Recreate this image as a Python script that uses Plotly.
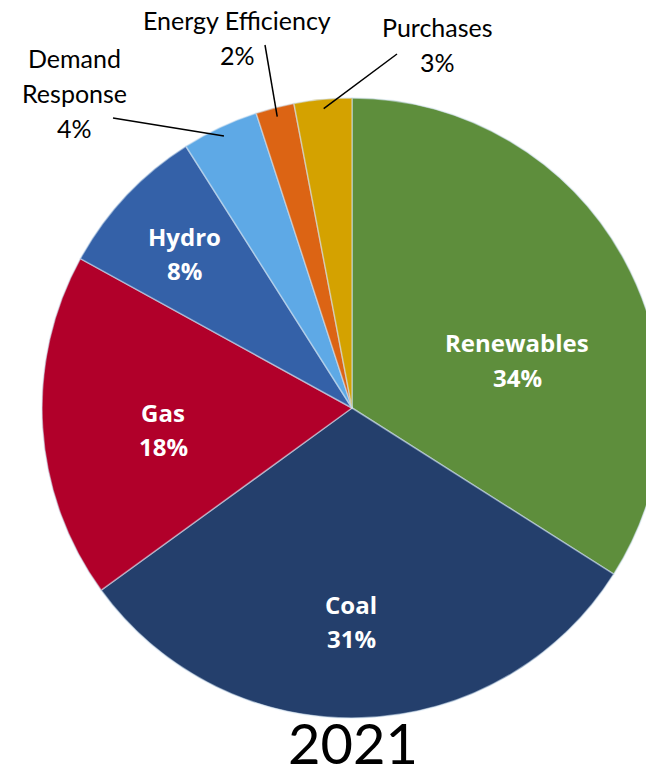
import math
import plotly.graph_objects as go

# ---- data ----
categories = ["Renewables", "Coal", "Gas", "Hydro", "Demand Response", "Energy Efficiency", "Purchases"]
values = [34, 31, 18, 8, 4, 2, 3]
colors = ["#5E8E3C", "#243F6C", "#B1002A", "#3461A8", "#5EA9E6", "#DC6414", "#D4A200"]
title_text = "2021"

# ---- layout geometry (pixels) ----
W, H = 680, 777
CX, CY, R = 352, 408, 310


def px(x):
    return x / W


def py(y):
    return 1 - y / H


fig = go.Figure()
fig.add_trace(go.Pie(
    labels=categories,
    values=values,
    sort=False,
    direction="clockwise",
    rotation=0,
    textinfo="none",
    hoverinfo="label+percent",
    marker=dict(colors=colors, line=dict(color="rgba(210,225,240,0.55)", width=1.5)),
    domain=dict(x=[px(CX - R), px(CX + R)], y=[py(CY + R), py(CY - R)]),
    showlegend=False,
))

total = sum(values)
pcts = [round(100 * v / total) for v in values]

# label line positions (x centre, y of each text line)
inside_pos = {"Renewables": (517, [343, 377]), "Coal": (351, [604, 638]),
              "Gas": (163, [412, 446]), "Hydro": (185, [236, 270])}
outside_pos = {"Demand Response": (74, [58, 93, 128]), "Energy Efficiency": (237, [20, 55]),
               "Purchases": (437, [27, 62])}
outside_lines = {"Demand Response": ["Demand", "Response"], "Energy Efficiency": ["Energy Efficiency"],
                 "Purchases": ["Purchases"]}
leader_end = {"Demand Response": (113, 118), "Energy Efficiency": (265, 45), "Purchases": (397, 54)}

annotations = []


def add_text(x, y, text, font):
    annotations.append(dict(x=px(x), y=py(y), xref="paper", yref="paper", showarrow=False,
                            text=text, xanchor="center", yanchor="middle", font=font))


cum = 0
for cat, v, p in zip(categories, values, pcts):
    mid = (cum + v / 2) / total * 2 * math.pi
    cum += v
    if cat in inside_pos:
        x, ys = inside_pos[cat]
        f = dict(family="Open Sans", size=24, color="white")
        add_text(x, ys[0], f"<b>{cat}</b>", f)
        add_text(x, ys[1], f"<b>{p}%</b>", f)
    else:
        x, ys = outside_pos[cat]
        f = dict(family="Lato", size=25, color="black")
        lines = outside_lines[cat] + [f"{p}%"]
        for t, y in zip(lines, ys):
            add_text(x, y, t, f)
        sx = CX + 0.97 * R * math.sin(mid)
        sy = CY - 0.97 * R * math.cos(mid)
        ex, ey = leader_end[cat]
        fig.add_shape(type="line", xref="paper", yref="paper", x0=px(sx), y0=py(sy), x1=px(ex), y1=py(ey),
                      line=dict(color="black", width=1.5))

annotations.append(dict(x=px(353), y=0, xref="paper", yref="paper", showarrow=False, text=title_text,
                        xanchor="center", yanchor="bottom", borderpad=0,
                        font=dict(family="Lato", size=56, color="black")))

fig.update_layout(
    width=W, height=H,
    margin=dict(l=0, r=0, t=0, b=0),
    paper_bgcolor="white", plot_bgcolor="white",
    annotations=annotations,
)

fig.write_html("out.html", config={"displayModeBar": False},
               post_script="document.body.style.margin='0';document.body.style.overflow='hidden';document.documentElement.style.overflow='hidden';")
